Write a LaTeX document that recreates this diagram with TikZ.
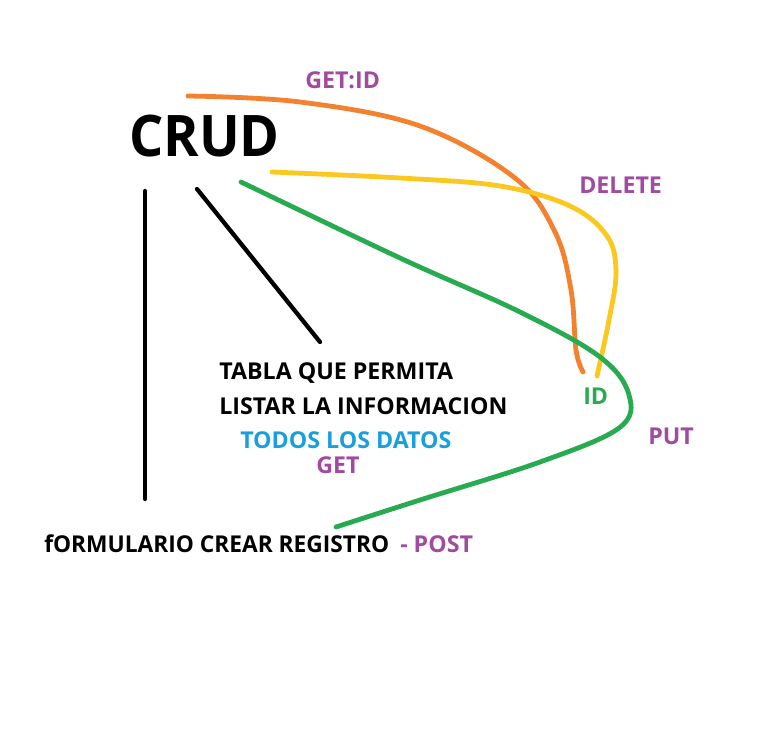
\documentclass[tikz,border=0pt]{standalone}
\usepackage{fontspec}
\setmainfont{Open Sans}
\definecolor{pporange}{RGB}{242,130,48}
\definecolor{ppyellow}{RGB}{250,200,30}
\definecolor{ppgreen}{RGB}{40,170,80}
\definecolor{pppurple}{RGB}{160,75,160}
\definecolor{ppcyan}{RGB}{25,160,220}
\begin{document}
\begin{tikzpicture}[x=0.75pt,y=-0.75pt,
  lbl/.style={inner sep=0pt,anchor=west,font=\bfseries\fontsize{17.4}{20}\selectfont},
  stroke/.style={line width=3.6pt,line cap=round,line join=round}]
\useasboundingbox (0,0) rectangle (768,730);
\fill[white] (0,0) rectangle (768,730);
\node[inner sep=0pt,anchor=west,font=\bfseries\fontsize{43}{50}\selectfont,xscale=0.94] (crud) at (129,136) {CRUD};
\node[lbl,text=pppurple] (getid) at (305,80) {GET:ID};
\node[lbl,text=pppurple] (delete) at (579,185) {DELETE};
\node[lbl] (tabla1) at (219,373) {TABLA QUE PERMITA};
\node[lbl] (tabla2) at (219,406) {LISTAR LA INFORMACION};
\node[lbl,text=ppcyan] (todos) at (240,440) {TODOS LOS DATOS};
\node[lbl,text=pppurple] (get) at (316,465) {GET};
\node[lbl,xscale=0.98] (form) at (44,544) {fORMULARIO CREAR REGISTRO};
\node[lbl,text=pppurple] (post) at (400,544) {- POST};
\node[lbl,text=ppgreen] (id) at (583,396) {ID};
\node[lbl,text=pppurple] (put) at (648,436) {PUT};
% black lines
\coordinate (v1) at (145,191);
\coordinate (v2) at (145,499);
\coordinate (d1) at (197,189);
\coordinate (d2) at (320,342);
\draw[stroke,line width=3.2pt] (v1) -- (v2);
\draw[stroke,line width=3.2pt] (d1) -- (d2);
% orange
\draw[stroke,pporange] plot[smooth,tension=0.6] coordinates {(188,96) (300,102) (420,126) (515,178) (555,232) (571,290) (576,350) (583,372)};
% yellow
\draw[stroke,ppyellow] plot[smooth,tension=0.6] coordinates {(272,172) (400,178) (500,186) (570,206) (607,236) (616,272) (609,320) (597,376)};
% green
\draw[stroke,ppgreen] plot[smooth,tension=0.6] coordinates {(241,182) (400,258) (520,312) (600,357) (629,395) (619,428) (540,462) (420,500) (336,527)};
\end{tikzpicture}
\end{document}
